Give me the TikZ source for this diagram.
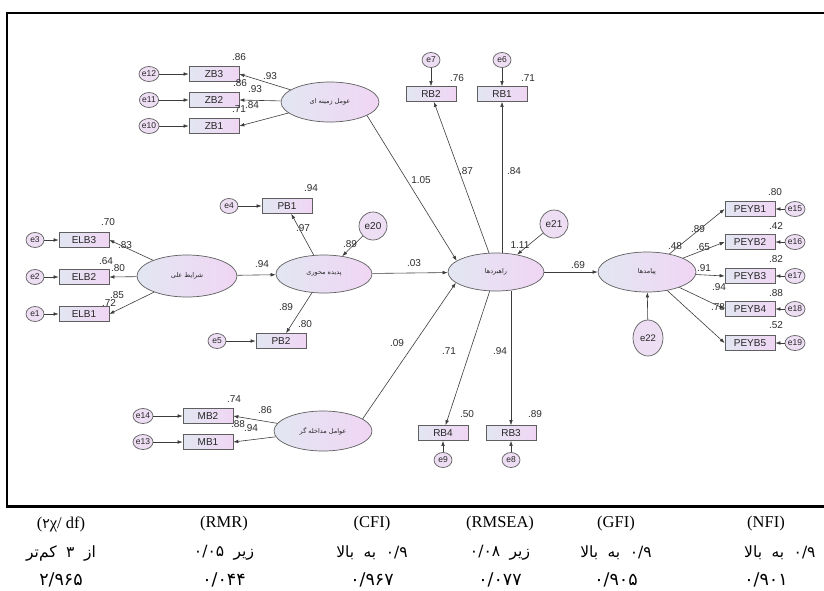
\documentclass[tikz,border=0pt]{standalone}
\usepackage{fontspec}
\setmainfont{Liberation Serif}
\setsansfont{Liberation Sans}
\newfontfamily\amosfont{Liberation Sans}
\newfontfamily\arabicfont[Script=Arabic]{DejaVu Sans}
\TeXXeTstate=1
\newcommand\tblsp{\spaceskip=9.5pt\relax}
\usetikzlibrary{shapes.geometric,arrows.meta}
\definecolor{boxL}{RGB}{226,230,242}
\definecolor{boxR}{RGB}{240,214,244}
\definecolor{errfill}{RGB}{238,222,244}
\definecolor{lineC}{RGB}{60,60,60}
\definecolor{edgeC}{RGB}{95,95,95}
\definecolor{lblC}{RGB}{45,45,45}
\tikzset{
  obs/.style={rectangle, draw=edgeC, line width=0.7pt, minimum width=50pt, minimum height=15pt, inner sep=0pt, left color=boxL, right color=boxR, font=\amosfont\fontsize{10}{12}\selectfont, text=black!85},
  lat/.style={ellipse, draw=edgeC, line width=0.7pt, left color=boxL, right color=boxR, inner sep=0pt, minimum width=98pt, minimum height=40pt, font=\arabicfont\fontsize{6.5}{8}\selectfont, text=black!85},
  err/.style={ellipse, draw=edgeC, line width=0.7pt, fill=errfill, minimum width=18pt, minimum height=15pt, inner sep=0pt, font=\amosfont\fontsize{8.5}{9}\selectfont, text=black!85},
  bigerr/.style={err, minimum width=28pt, minimum height=28pt, font=\amosfont\fontsize{10}{11}\selectfont},
  arr/.style={draw=lineC, line width=0.6pt, -{Latex[length=5pt,width=3.6pt]}},
  lbl/.style={font=\amosfont\fontsize{10}{12}\selectfont, text=lblC, inner sep=0pt},
  thead/.style={font=\fontsize{16.5}{19}\selectfont, inner sep=0pt},
  tfa/.style={font=\arabicfont\fontsize{15.5}{18}\selectfont, inner sep=0pt},
  tnum/.style={font=\arabicfont\fontsize{17.5}{20}\selectfont, inner sep=0pt}
}
\begin{document}
\begin{tikzpicture}[x=1pt,y=-1pt]
\useasboundingbox (0,0) rectangle (824,590);
\fill[white] (0,0) rectangle (824,590);
% frame
\draw[line width=2.4pt] (830,13) -- (7,13) -- (7,506.5) -- (830,506.5);

% ---------- ZB cluster ----------
\node[err] (e12) at (149,74) {e12};
\node[err] (e11) at (149,100) {e11};
\node[err] (e10) at (149,126) {e10};
\node[obs] (zb3) at (214,74) {ZB3};
\node[obs] (zb2) at (214,100) {ZB2};
\node[obs] (zb1) at (214,126) {ZB1};
\node[lat] (zb) at (330,102) {\beginR عومل زمینه ای\endR};
\draw[arr] (e12) -- (zb3);
\draw[arr] (e11) -- (zb2);
\draw[arr] (e10) -- (zb1);
\draw[arr] (zb) -- (zb3.east);
\draw[arr] (zb) -- (zb2.east);
\draw[arr] (zb) -- (zb1.east);
\node[lbl] (l1) at (239,57) {.86};
\node[lbl] (l2) at (270,76) {.93};
\node[lbl] (l3) at (240,83) {.86};
\node[lbl] (l4) at (255,89) {.93};
\node[lbl] (l5) at (239,109) {.71};
\node[lbl] (l6) at (252,105) {.84};

% ---------- ELB cluster ----------
\node[err] (e3) at (35,240) {e3};
\node[err] (e2) at (35,277) {e2};
\node[err] (e1) at (35,314) {e1};
\node[obs] (elb3) at (84,240) {ELB3};
\node[obs] (elb2) at (84,277) {ELB2};
\node[obs] (elb1) at (84,314) {ELB1};
\node[lat, minimum width=100pt, minimum height=42pt] (ali) at (187,276) {\beginR شرایط علی\endR};
\draw[arr] (e3) -- (elb3);
\draw[arr] (e2) -- (elb2);
\draw[arr] (e1) -- (elb1);
\draw[arr] (ali) -- (elb3.east);
\draw[arr] (ali) -- (elb2.east);
\draw[arr] (ali) -- (elb1.east);
\node[lbl] (l7) at (108,222) {.70};
\node[lbl] (l8) at (125,245) {.83};
\node[lbl] (l9) at (106,261) {.64};
\node[lbl] (l10) at (118,268) {.80};
\node[lbl] (l11) at (117,295) {.85};
\node[lbl] (l12) at (109,303) {.72};

% ---------- PB cluster ----------
\node[err] (e4) at (229,206) {e4};
\node[err] (e5) at (217,341) {e5};
\node[obs] (pb1) at (287,206) {PB1};
\node[obs] (pb2) at (281,341) {PB2};
\node[lat, minimum width=96pt, minimum height=38pt] (pad) at (324,274) {\beginR پدیده محوری\endR};
\node[bigerr] (e20) at (373,226) {e20};
\draw[arr] (e4) -- (pb1);
\draw[arr] (e5) -- (pb2);
\draw[arr] (pad) -- (pb1);
\draw[arr] (pad) -- (pb2);
\draw[arr] (e20) -- (pad);
\draw[arr] (ali) -- (pad);
\node[lbl] (l13) at (311,188) {.94};
\node[lbl] (l14) at (303,228) {.97};
\node[lbl] (l15) at (350,244) {.89};
\node[lbl] (l16) at (262,264) {.94};
\node[lbl] (l17) at (286,307) {.89};
\node[lbl] (l18) at (305,324) {.80};

% ---------- RB cluster ----------
\node[err] (e7) at (431,60) {e7};
\node[err] (e6) at (502,60) {e6};
\node[obs] (rb2) at (431,94) {RB2};
\node[obs] (rb1) at (502,94) {RB1};
\node[lat, minimum width=96pt, minimum height=38pt] (rah) at (496,272) {\beginR راهبردها\endR};
\node[bigerr] (e21) at (554,224) {e21};
\node[obs] (rb4) at (443,433) {RB4};
\node[obs] (rb3) at (511,433) {RB3};
\node[err] (e9) at (443,460) {e9};
\node[err] (e8) at (511,460) {e8};
\draw[arr] (e7) -- (rb2);
\draw[arr] (e6) -- (rb1);
\draw[arr] (rah) -- (rb2);
\draw[arr] (rah.north -| rb1.south) -- (rb1.south);
\draw[arr] (rah) -- (rb4);
\draw[arr] (rah.south -| rb3.north) -- (rb3.north);
\draw[arr] (e9) -- (rb4);
\draw[arr] (e8) -- (rb3);
\draw[arr] (e21) -- (rah);
\draw[arr] (pad) -- (rah);
\draw[arr] (zb.-20) -- (rah.164);
\node[lbl] (l19) at (457,78) {.76};
\node[lbl] (l20) at (528,78) {.71};
\node[lbl] (l21) at (421,180) {1.05};
\node[lbl] (l22) at (466,171) {.87};
\node[lbl] (l23) at (514,171) {.84};
\node[lbl] (l24) at (520,245) {1.11};
\node[lbl] (l25) at (414,263) {.03};
\node[lbl] (l26) at (449,351) {.71};
\node[lbl] (l27) at (500,351) {.94};
\node[lbl] (l28) at (467,414) {.50};
\node[lbl] (l29) at (535,414) {.89};

% ---------- MB cluster ----------
\node[err] (e14) at (143,416) {e14};
\node[err] (e13) at (143,442) {e13};
\node[obs] (mb2) at (208,416) {MB2};
\node[obs] (mb1) at (208,442) {MB1};
\node[lat] (mod) at (323,431) {\beginR عوامل مداخله گر\endR};
\draw[arr] (e14) -- (mb2);
\draw[arr] (e13) -- (mb1);
\draw[arr] (mod) -- (mb2.east);
\draw[arr] (mod) -- (mb1.east);
\draw[arr] (mod.17) -- (rah.-165);
\node[lbl] (l30) at (234,399) {.74};
\node[lbl] (l31) at (265,410) {.86};
\node[lbl] (l32) at (238,424) {.88};
\node[lbl] (l33) at (251,428) {.94};
\node[lbl] (l34) at (397,343) {.09};

% ---------- PEYB cluster ----------
\node[lat, minimum width=98pt, minimum height=40pt] (pay) at (647,272) {\beginR پیامدها\endR};
\node[err, minimum width=30pt, minimum height=36pt, font=\amosfont\fontsize{9.5}{10}\selectfont] (e22) at (648,338) {e22};
\node[obs] (py1) at (750,209) {PEYB1};
\node[obs] (py2) at (750,242) {PEYB2};
\node[obs] (py3) at (750,276) {PEYB3};
\node[obs] (py4) at (750,309) {PEYB4};
\node[obs] (py5) at (750,343) {PEYB5};
\node[err] (e15) at (795,209) {e15};
\node[err] (e16) at (795,242) {e16};
\node[err] (e17) at (795,276) {e17};
\node[err] (e18) at (795,309) {e18};
\node[err] (e19) at (795,343) {e19};
\draw[arr] (rah) -- (pay);
\draw[arr] (e22) -- (pay);
\draw[arr] (pay) -- (py1.west);
\draw[arr] (pay) -- (py2.west);
\draw[arr] (pay) -- (py3.west);
\draw[arr] (pay) -- (py4.west);
\draw[arr] (pay) -- (py5.west);
\draw[arr] (e15) -- (py1);
\draw[arr] (e16) -- (py2);
\draw[arr] (e17) -- (py3);
\draw[arr] (e18) -- (py4);
\draw[arr] (e19) -- (py5);
\node[lbl] (l35) at (578,265) {.69};
\node[lbl] (l36) at (675,246) {.48};
\node[lbl] (l37) at (698,229) {.89};
\node[lbl] (l38) at (703,247) {.65};
\node[lbl] (l39) at (704,268) {.91};
\node[lbl] (l40) at (719,287) {.94};
\node[lbl] (l41) at (718,307) {.78};
\node[lbl] (l42) at (775,192) {.80};
\node[lbl] (l43) at (776,226) {.42};
\node[lbl] (l44) at (776,259) {.82};
\node[lbl] (l45) at (776,293) {.88};
\node[lbl] (l46) at (776,325) {.52};

% ---------- table ----------
\node[thead] (h1) at (61,524) {({\arabicfont\fontsize{14}{16}\selectfont ۲}χ/ df)};
\node[thead] (h2) at (224,524) {(RMR)};
\node[thead] (h3) at (372,524) {(CFI)};
\node[thead] (h4) at (500,524) {(RMSEA)};
\node[thead] (h5) at (616,524) {(GFI)};
\node[thead] (h6) at (766,524) {(NFI)};
\node[tfa] (r1) at (61,553) {\tblsp\beginR از ۳ کم‌تر\endR};
\node[tfa] (r2) at (224,553) {\tblsp\beginR زیر ۰/۰۵\endR};
\node[tfa] (r3) at (372,553) {\tblsp\beginR ۰/۹ به بالا\endR};
\node[tfa] (r4) at (500,553) {\tblsp\beginR زیر ۰/۰۸\endR};
\node[tfa] (r5) at (616,553) {\tblsp\beginR ۰/۹ به بالا\endR};
\node[tfa, anchor=west] (r6) at (744,553) {\tblsp\beginR ۰/۹ به بالا\endR};
\node[tnum] (v1) at (61,580) {۲/۹۶۵};
\node[tnum] (v2) at (224,580) {۰/۰۴۴};
\node[tnum] (v3) at (372,580) {۰/۹۶۷};
\node[tnum] (v4) at (500,580) {۰/۰۷۷};
\node[tnum] (v5) at (616,580) {۰/۹۰۵};
\node[tnum] (v6) at (766,580) {۰/۹۰۱};
\end{tikzpicture}
\end{document}
